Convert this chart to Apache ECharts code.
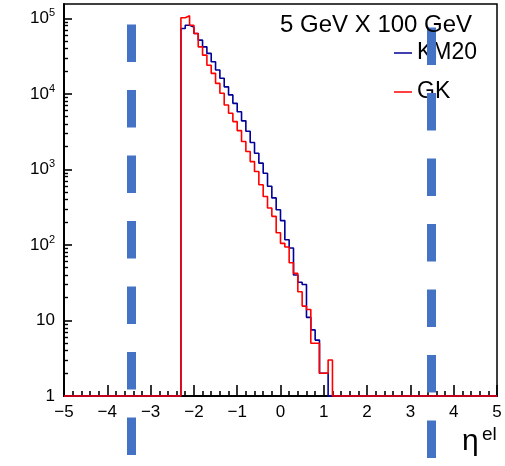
<!DOCTYPE html>
<html>
<head>
<meta charset="utf-8">
<script src="https://cdn.jsdelivr.net/npm/echarts@6/dist/echarts.min.js"></script>
<style>
  html, body { margin: 0; padding: 0; background: #fff; }
  #chart { width: 505px; height: 466px; }
</style>
</head>
<body>
<div id="chart"></div>
<script>
// eta histograms, bins of 0.1 starting at -2.3
var binLow = -2.3;
var binWidth = 0.1;
var blueCounts = [73600, 81000, 77000, 63000, 51500, 42000, 34400, 26600, 20700, 16100,
                  12400, 9700, 7500, 5800, 4400, 3200, 2270, 1640, 1210, 890,
                  600, 420, 292, 210, 117, 91, 40, 32, 30, 11,
                  7.5, 5.5, 2, 2];
var redCounts = [102000, 108000, 81000, 63000, 42000, 32600, 24000, 18700, 13800, 10200,
                 7130, 5540, 4300, 3265, 2340, 1725, 1270, 937, 626, 439,
                 308, 239, 145, 105, 94, 58, 42, 24, 15.5, 14,
                 5, 5, 2, 2, 3];
var seriesNames = ['KM20', 'GK'];
var xTicks = [-5, 5];
var yDecades = [1, 10, 100, 1000, 10000, 100000];
var cutLines = [-3.44, 3.48];
var legendText = '5 GeV X 100 GeV';

var font = '"Liberation Sans", Arial, Helvetica, sans-serif';

// histogram as step line, empty bins sit on the axis minimum (1)
function histo(counts) {
  var pts = [[xTicks[0], 1]];
  counts.forEach(function (c, i) {
    pts.push([+(binLow + i * binWidth).toFixed(2), c]);
  });
  pts.push([+(binLow + counts.length * binWidth).toFixed(2), 1]);
  pts.push([xTicks[1], 1]);
  return pts;
}

// minor ticks 2..9 in every decade
var yMinor = [];
for (var d = 0; d < yDecades.length - 1; d++) {
  for (var m = 2; m <= 9; m++) yMinor.push(m * yDecades[d]);
}

var myChart = echarts.init(document.getElementById('chart'));
var dash = { color: '#4472c4', width: 9, type: [37.5, 28], cap: 'butt' };

var option = {
  animation: false,
  textStyle: { fontFamily: font },
  title: {
    text: legendText, left: 280, top: 13, padding: 0,
    textStyle: { fontSize: 24, fontWeight: 'normal', color: '#000', fontFamily: font }
  },
  legend: {
    data: seriesNames, orient: 'vertical', left: 394, top: 41, padding: 0,
    icon: 'rect', itemWidth: 18, itemHeight: 1.5, itemGap: 15,
    textStyle: { fontSize: 23, lineHeight: 24, color: '#000', fontFamily: font }
  },
  graphic: [
    { type: 'text', left: 462, top: 427, style: { text: 'η', font: '30px ' + font, fill: '#000' } },
    { type: 'text', left: 482, top: 425, style: { text: 'el', font: '19px ' + font, fill: '#000' } }
  ],
  grid: [
    { left: 64, right: 8, top: 4, bottom: 70, show: true, borderColor: '#000', borderWidth: 1.5 },
    { left: 64, right: 8, top: 0, bottom: 8 }
  ],
  xAxis: [
    {
      type: 'value', gridIndex: 0, min: xTicks[0], max: xTicks[1], interval: 1,
      axisLine: { onZero: false, lineStyle: { color: '#000', width: 2 } },
      axisTick: { inside: true, length: 11, lineStyle: { color: '#000', width: 1.6 } },
      minorTick: { show: true, splitNumber: 5, length: 5, lineStyle: { color: '#000', width: 1.6 } },
      splitLine: { show: false },
      axisLabel: {
        fontSize: 17, color: '#000', margin: 8,
        formatter: function (v) { return String(v).replace('-', '\u2212'); }
      }
    },
    { type: 'value', gridIndex: 1, min: xTicks[0], max: xTicks[1], show: false }
  ],
  yAxis: [
    {
      type: 'log', gridIndex: 0, logBase: 10, min: 1, max: 155000, position: 'left',
      axisLine: { show: true, onZero: false, lineStyle: { color: '#000', width: 2 } },
      axisTick: { inside: true, length: 8, customValues: yDecades, lineStyle: { color: '#000', width: 1.6 } },
      splitLine: { show: false },
      axisLabel: {
        customValues: yDecades, margin: 9, color: '#000',
        formatter: function (v) {
          var n = Math.round(Math.log10(v));
          if (n === 0) return '{b|1}';
          if (n === 1) return '{b|10}';
          return '{b|10}{s|' + n + '}';
        },
        rich: {
          b: { fontSize: 17, color: '#000', fontFamily: font },
          s: { fontSize: 11, color: '#000', fontFamily: font, padding: [0, 0, 10, 0] }
        }
      }
    },
    {
      type: 'log', gridIndex: 0, logBase: 10, min: 1, max: 155000, position: 'left', offset: 0,
      axisLine: { show: false, onZero: false },
      axisTick: { inside: true, length: 4, customValues: yMinor, lineStyle: { color: '#000', width: 1.4 } },
      axisLabel: { show: false, customValues: yMinor },
      splitLine: { show: false }
    },
    { type: 'value', gridIndex: 1, min: 0, max: 1, show: false }
  ],
  series: [
    {
      name: seriesNames[0], type: 'line', step: 'end', xAxisIndex: 0, yAxisIndex: 0,
      data: histo(blueCounts), symbol: 'none', clip: false,
      color: '#000099', lineStyle: { color: '#000099', width: 1.6 }
    },
    {
      name: seriesNames[1], type: 'line', step: 'end', xAxisIndex: 0, yAxisIndex: 0,
      data: histo(redCounts), symbol: 'none', clip: false,
      color: '#ff0000', lineStyle: { color: '#ff0000', width: 1.6 }
    },
    {
      type: 'line', xAxisIndex: 1, yAxisIndex: 2, data: [], z: 10,
      markLine: {
        silent: true, symbol: ['none', 'none'], label: { show: false },
        data: [
          { xAxis: cutLines[0], lineStyle: Object.assign({ dashOffset: 62.5 }, dash) },
          { xAxis: cutLines[1], lineStyle: Object.assign({ dashOffset: 0 }, dash) }
        ]
      }
    }
  ]
};

myChart.setOption(option);
</script>
</body>
</html>
